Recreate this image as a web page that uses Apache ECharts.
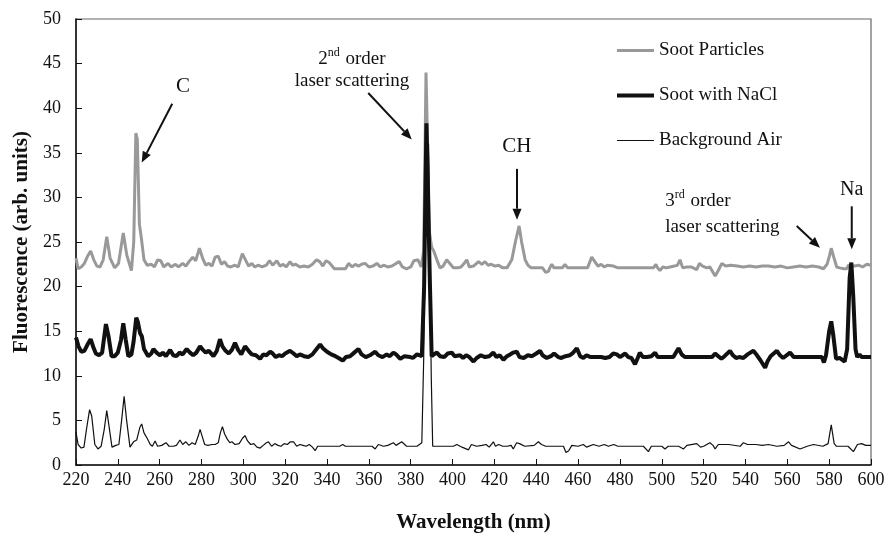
<!DOCTYPE html>
<html><head><meta charset="utf-8">
<script src="https://cdn.jsdelivr.net/npm/echarts@6/dist/echarts.min.js"></script>
<style>html,body{margin:0;padding:0;background:#fff}#c{width:888px;height:538px}</style>
</head><body><div id="c"></div>
<script>
const xTicks = {min: 220, max: 600, interval: 20};
const yTicks = {min: 0, max: 50, interval: 5};
const seriesNames = ['Soot Particles', 'Soot with NaCl', 'Background Air'];

const sootParticles = [[220,23.2],[221,22.0],[222.5,22.2],[224,22.6],[225.5,23.4],[227,24.0],[228.5,23.0],[230,22.3],[231.5,22.2],[233,23.0],[234.7,25.6],[236.3,23.2],[238.5,22.1],[240.3,22.6],[242.6,26.0],[244.3,23.5],[246.5,21.8],[247.6,25.0],[248.6,37.2],[249.3,36.5],[250.3,27.0],[251.2,25.5],[252.5,23.0],[254,22.4],[256,22.5],[257.5,22.2],[259,23.0],[260.5,22.9],[262,22.2],[264,22.6],[265.5,22.2],[267.5,22.5],[269,22.2],[271,22.6],[272.5,22.3],[274,22.8],[275.8,23.3],[277.2,22.9],[279,24.3],[280.5,23.2],[282,22.4],[283.5,22.6],[285,22.3],[286.5,23.3],[288,23.4],[289.5,22.5],[291,22.8],[292.5,22.3],[294,22.2],[296,22.4],[297.5,22.2],[299.5,23.7],[301,23.0],[302.5,22.3],[304,22.6],[305.5,22.2],[307,22.4],[309,22.2],[311,22.4],[312.5,22.9],[314,22.4],[316,22.9],[317.5,22.3],[319,22.5],[320.5,22.2],[322.3,22.8],[323.5,22.4],[325,22.5],[327,22.2],[329,22.3],[331,22.2],[333,22.5],[335,23.0],[336.5,22.8],[338,22.3],[339.5,22.9],[341,22.7],[343.5,22.0],[348.8,22.0],[350.3,22.6],[352,22.2],[353.5,22.5],[355,22.3],[356.5,22.5],[358.2,22.6],[360,22.2],[362,22.3],[363.8,22.6],[365.5,22.2],[367,22.4],[369,22.2],[371,22.3],[373,22.6],[374.5,22.8],[376,22.2],[378,22.0],[380,22.2],[381.5,22.9],[383.5,23.0],[385,22.2],[386.2,24],[387.3,44.0],[387.9,44.0],[389,26],[390,24.4],[391,24.0],[392.5,23.0],[394,22.1],[395.5,22.3],[397.2,23.0],[399,22.5],[400.4,22.1],[402.5,22.1],[404,22.2],[405.5,22.6],[406.8,23.0],[408,22.2],[410,22.3],[412.4,22.8],[414,22.5],[415.5,22.8],[417,22.4],[418.5,22.5],[420.3,22.3],[422,22.4],[424,22.1],[426,22.1],[428.3,23.0],[430,25],[431.8,26.8],[433,25],[434.7,23.0],[436,22.4],[437.5,22.1],[443,22.1],[444.5,21.6],[445.8,21.7],[446.5,22.1],[447.4,22.5],[448.5,22.1],[452.5,22.1],[453.7,22.5],[455,22.1],[464.5,22.1],[466.5,23.3],[468,22.8],[469.5,22.3],[471,22.5],[472.5,22.2],[474,22.4],[476.9,22.3],[479,22.1],[496,22.1],[497.2,22.5],[498,22.1],[499.1,21.8],[500.5,22.2],[502,22.1],[504,22.2],[506,22.3],[507.5,22.4],[508.7,23.0],[510,22.1],[512,22.2],[514,22.2],[516.7,21.9],[518,22.6],[519.5,22.3],[521.5,22.1],[523,22.2],[525.5,21.2],[527,21.8],[528.7,22.6],[530.5,22.3],[533,22.4],[536,22.3],[539,22.2],[542,22.3],[545,22.2],[548,22.3],[551,22.3],[554,22.2],[557,22.3],[560,22.1],[563,22.2],[566,22.3],[569,22.2],[572,22.3],[575,22.2],[577.3,22.0],[579,22.5],[580.2,23.5],[581,24.3],[582.2,23.3],[583.6,22.2],[585,22.1],[587,22.0],[588.5,22.0],[589.2,22.4],[590.5,22.3],[592,22.3],[594,22.4],[596,22.2],[598,22.5],[600,22.4]];

const sootNaCl = [[220,14.3],[221.2,13.3],[222.5,12.7],[224,12.8],[225.5,13.5],[227,14.1],[228.3,13.2],[229.5,12.5],[231,12.3],[232.5,12.6],[234.3,15.8],[235.5,14.5],[237,12.2],[238.5,12.2],[240,12.6],[241.5,14],[242.6,15.9],[243.8,14],[245,12.2],[246.5,12.4],[247.5,13.8],[248.8,16.5],[249.6,16.0],[250.6,14.8],[251.5,14.4],[252.5,13.0],[254.5,12.2],[256,12.5],[257,13.0],[258.5,12.6],[260.2,12.3],[261.5,12.6],[263,12.2],[265,12.9],[266.5,12.3],[268,12.2],[269.5,12.6],[271,12.4],[272.9,13.0],[274.5,12.6],[276,12.3],[277.5,12.6],[279.3,13.3],[280.7,12.9],[282,12.6],[283.5,12.8],[285.7,12.2],[287.3,12.8],[288.8,14.1],[290,13.3],[291.5,12.8],[293,12.5],[294.5,12.9],[296,13.7],[297.5,12.9],[299,12.4],[300.8,13.3],[302.5,12.8],[304,12.4],[306,12.3],[308,11.9],[309.5,12.4],[311,12.3],[312.8,12.7],[314,12.5],[315.5,12.1],[317,12.3],[318.5,12.2],[320,12.5],[322.3,12.8],[324,12.5],[325.5,12.2],[327,12.4],[329,12.2],[331,12.1],[333,12.4],[335,13.0],[336.7,13.5],[338,13.1],[340,12.7],[342,12.4],[344,12.2],[345.5,12.0],[347.5,11.7],[349,12.1],[351,12.2],[353,12.6],[355,13.0],[356.5,12.4],[358.5,12.1],[360.5,12.3],[363,12.7],[364.5,12.3],[366.5,12.1],[368.5,12.4],[370,12.2],[371.7,12.6],[373,12.4],[375,11.9],[377,12.2],[379.7,12.1],[381,12.0],[383,12.4],[385.3,12.2],[386.4,20],[387.5,38.3],[388.2,38.3],[389.2,20],[390,12.2],[391,12.4],[392.5,12.6],[394,12.2],[396,12.1],[397.7,12.5],[399.6,12.6],[401,12.2],[403.6,12.3],[405,12.0],[406.5,12.3],[408,12.1],[410,11.6],[411.5,12.0],[413.5,12.3],[415.5,12.1],[417.5,12.2],[419.5,12.6],[421,12.1],[422.5,12.3],[424.3,11.8],[426,12.2],[427.5,12.4],[429,12.6],[430.7,12.7],[432,12.1],[434,12.0],[436,12.3],[438,12.2],[440,12.5],[441.8,12.8],[443,12.3],[445,12.0],[447,12.2],[448.5,12.5],[450.5,12.1],[452,12.0],[454,12.2],[456,12.3],[457.7,12.6],[459.4,13.1],[461,12.2],[462.5,12.0],[464,12.3],[466,12.1],[471,12.1],[473,12.0],[475,12.1],[476.8,12.5],[478.5,12.4],[480,12.1],[482.5,12.5],[484,12.1],[485.5,12.0],[487.2,11.3],[488.5,12.0],[489.5,12.6],[491,12.1],[493,12.1],[495,12.2],[496.8,12.6],[498,12.1],[505.5,12.1],[506.5,12.5],[508,13.1],[509.5,12.4],[511,12.1],[524,12.1],[525.5,12.5],[527,12.2],[528.5,11.9],[530,12.2],[532.6,12.8],[534,12.3],[535.5,12.0],[537,12.1],[539,12.0],[541,12.4],[543.8,12.8],[545.5,12.3],[547,11.8],[549.4,10.9],[550.5,11.6],[552,12.2],[555,12.8],[556.5,12.3],[558,12.0],[561.3,12.6],[563,12.1],[576.5,12.1],[577.5,11.5],[578.5,12.3],[580,15],[581,16.1],[582,14.5],[583.3,11.9],[585,12.0],[587.4,11.6],[588.6,13],[589.8,21],[590.6,22.7],[591.5,19],[592.6,13],[593.4,12.1],[594.5,12.4],[595.5,12.1],[600,12.1]];

const backgroundAir = [[220,3.7],[221,2.3],[222.5,1.9],[223.8,2.0],[225,4],[226.5,6.2],[227.5,5.5],[229,2.3],[230.5,1.8],[232,2.1],[233.5,4],[234.7,6.1],[236,4],[237.2,2.0],[239,2.2],[240.5,2.3],[241.8,5],[243,7.7],[244.2,5],[245.8,2.0],[247.5,2.6],[249,2.8],[250.5,4.2],[251.4,4.6],[252.5,3.6],[254,3.0],[255.5,2.3],[256.5,2.1],[257.8,2.7],[259,2.1],[261,2.2],[263,2.5],[264.5,2.1],[266.5,2.1],[268,2.2],[269.7,2.8],[271,2.3],[272.5,2.6],[274,2.2],[275.5,2.5],[277,2.3],[278.5,3.3],[279.3,4.0],[280.2,3.3],[281.5,2.3],[283,2.2],[285,2.3],[286.5,2.3],[288,2.5],[289,3.6],[290,4.3],[291,3.5],[292.3,2.9],[293.5,2.5],[294.5,2.6],[296,2.3],[298,2.4],[299.6,3.0],[300.8,3.3],[302,2.7],[303.5,2.3],[305,2.4],[306.5,2.0],[308,1.9],[309.5,2.2],[311,2.5],[312,2.6],[313.5,2.1],[315,2.4],[316.5,2.2],[318,2.1],[319.5,2.4],[321,2.3],[322.5,2.6],[324,2.6],[325.5,2.1],[327,2.3],[328.5,2.2],[330,2.1],[331.5,2.3],[333,2.0],[334.3,1.6],[335.5,2.1],[346,2.1],[347.5,2.3],[348.8,2.1],[355,2.1],[355.8,2.3],[357,2.1],[361.5,2.1],[363,1.8],[364.5,2.3],[367,2.1],[369,2.2],[371.7,2.5],[373,2.2],[375.7,2.6],[378,2.1],[383,2.1],[385.3,2.5],[386.2,12],[387.5,36],[388.5,36],[389.8,10],[390.5,2.1],[400.4,2.1],[402,2.3],[404.5,2.0],[407.6,1.7],[409,2.3],[411.5,2.1],[414,2.2],[416,2.3],[417.5,2.0],[419.5,2.6],[420.5,2.1],[422,2.3],[424,2.1],[426,2.1],[428,2.2],[429,1.8],[430.6,2.5],[432,2.4],[434.5,2.1],[439,2.2],[441,2.6],[442.5,2.3],[444.5,2.1],[453,2.1],[454.2,1.4],[455.5,1.6],[457,2.2],[460,2.1],[462.5,2.3],[464,2.0],[467.3,2.3],[470,2.1],[472.5,2.3],[474.5,2.1],[477,2.3],[479,2.1],[481.6,2.1],[491.2,2.1],[493.6,1.5],[495,2.1],[500,2.1],[501.5,1.8],[503.1,2.1],[508,2.1],[510.4,1.8],[512,2.2],[516.7,2.4],[518.5,2.0],[520,2.1],[523,2.5],[524.5,2.2],[525.5,1.8],[527,2.3],[532,2.3],[537.5,2.1],[539,2.5],[541,2.3],[545,2.3],[548,2.2],[551,2.3],[555,2.1],[558.5,2.2],[560.6,2.6],[562,2.2],[566.1,1.8],[569.5,2.1],[572.5,2.3],[577,2.1],[579.5,2.4],[581,4.5],[582.4,2.4],[583.5,2.1],[589,2.1],[591.6,1.5],[593.5,2.3],[595.5,2.4],[597.5,2.2],[600,2.2]];

// annotations in data coordinates (wavelength, fluorescence)
const labels = [
  {text: 'C', at: [271.1, 42.4], size: 21, align: 'center'},
  {text: '{n|2}{s|nd}{n| order}', at: [351.9, 45.7], size: 19, align: 'center'},
  {text: 'laser scattering', at: [351.9, 43.1], size: 19, align: 'center'},
  {text: 'CH', at: [430.7, 35.7], size: 21, align: 'center'},
  {text: '{n|3}{s|rd}{n| order}', at: [501.6, 29.75], size: 19, align: 'left'},
  {text: 'laser scattering', at: [501.6, 26.7], size: 19, align: 'left'},
  {text: 'Na', at: [590.8, 30.9], size: 20, align: 'center'}
];
const arrows = [
  {from: [266, 40.5], to: [251.4, 33.9]},
  {from: [359.7, 41.7], to: [380.5, 36.5]},
  {from: [430.8, 33.2], to: [430.8, 27.5]},
  {from: [564.5, 26.8], to: [575.6, 24.35]},
  {from: [590.8, 29.0], to: [590.8, 24.2]}
];

const FONT = '"Liberation Serif", "Times New Roman", serif';
const chart = echarts.init(document.getElementById('c'), null, {renderer: 'canvas'});
const lineStyles = [
  {color: '#999999', width: 3},
  {color: '#111111', width: 4},
  {color: '#111111', width: 1.2}
];
const seriesData = [sootParticles, sootNaCl, backgroundAir];

chart.setOption({
  animation: false,
  backgroundColor: '#fff',
  grid: {left: 76, right: 17, top: 19, bottom: 72, show: true, borderColor: '#666', borderWidth: 1.2, backgroundColor: 'transparent'},
  legend: {
    show: true, orient: 'vertical', left: 615, top: 41, padding: 0, itemWidth: 37, itemHeight: 14, itemGap: 26,
    textStyle: {fontFamily: FONT, fontSize: 19, color: '#111'},
    data: seriesNames.map((n, i) => ({
      name: n,
      itemStyle: {opacity: 0},
      lineStyle: {width: lineStyles[i].width, color: lineStyles[i].color, opacity: 1}
    }))
  },
  xAxis: {
    type: 'value', min: xTicks.min, max: xTicks.max, interval: xTicks.interval,
    name: 'Wavelength (nm)', nameLocation: 'middle', nameGap: 47,
    nameTextStyle: {fontFamily: FONT, fontSize: 21, fontWeight: 'bold', color: '#111'},
    axisLine: {lineStyle: {color: '#111', width: 1.5}},
    axisTick: {inside: true, length: 6, lineStyle: {color: '#111', width: 1}},
    axisLabel: {fontFamily: FONT, fontSize: 18, color: '#111', margin: 6},
    splitLine: {show: false}
  },
  yAxis: {
    type: 'value', min: yTicks.min, max: yTicks.max, interval: yTicks.interval,
    name: 'Fluorescence (arb. units)', nameLocation: 'middle', nameGap: 40, nameRotate: 90,
    nameTextStyle: {fontFamily: FONT, fontSize: 21, fontWeight: 'bold', color: '#111'},
    axisLine: {lineStyle: {color: '#111', width: 1.5}},
    axisTick: {inside: true, length: 6, lineStyle: {color: '#111', width: 1}},
    axisLabel: {fontFamily: FONT, fontSize: 18, color: '#111', margin: 15},
    splitLine: {show: false}
  },
  series: seriesNames.map((n, i) => ({
    name: n, type: 'line', data: seriesData[i], symbol: 'none', showSymbol: false,
    lineStyle: lineStyles[i], itemStyle: {color: lineStyles[i].color}, z: 2 + i
  }))
});

function px(p) { return chart.convertToPixel({xAxisIndex: 0, yAxisIndex: 0}, p); }
const graphics = [];
labels.forEach(l => {
  const p = px(l.at);
  graphics.push({
    type: 'text', x: p[0], y: p[1], z: 20,
    style: {
      text: l.text, fontFamily: FONT, fontSize: l.size, fill: '#111',
      align: l.align, verticalAlign: 'middle',
      rich: {n: {fontFamily: FONT, fontSize: l.size, fill: '#111', lineHeight: 22, verticalAlign: 'bottom'},
             s: {fontFamily: FONT, fontSize: 12, fill: '#111', lineHeight: 22, verticalAlign: 'top', padding: [0, 1, 0, 0]}}
    }
  });
});
arrows.forEach(a => {
  const p0 = px(a.from), p1 = px(a.to);
  const dx = p1[0] - p0[0], dy = p1[1] - p0[1];
  const len = Math.hypot(dx, dy), ux = dx / len, uy = dy / len;
  const hl = 11, hw = 4.5;
  const bx = p1[0] - ux * hl, by = p1[1] - uy * hl;
  graphics.push({type: 'line', z: 20, shape: {x1: p0[0], y1: p0[1], x2: bx, y2: by}, style: {stroke: '#111', lineWidth: 2}});
  graphics.push({type: 'polygon', z: 20, shape: {points: [[p1[0], p1[1]], [bx - uy * hw, by + ux * hw], [bx + uy * hw, by - ux * hw]]}, style: {fill: '#111'}});
});
chart.setOption({graphic: graphics});
</script></body></html>
